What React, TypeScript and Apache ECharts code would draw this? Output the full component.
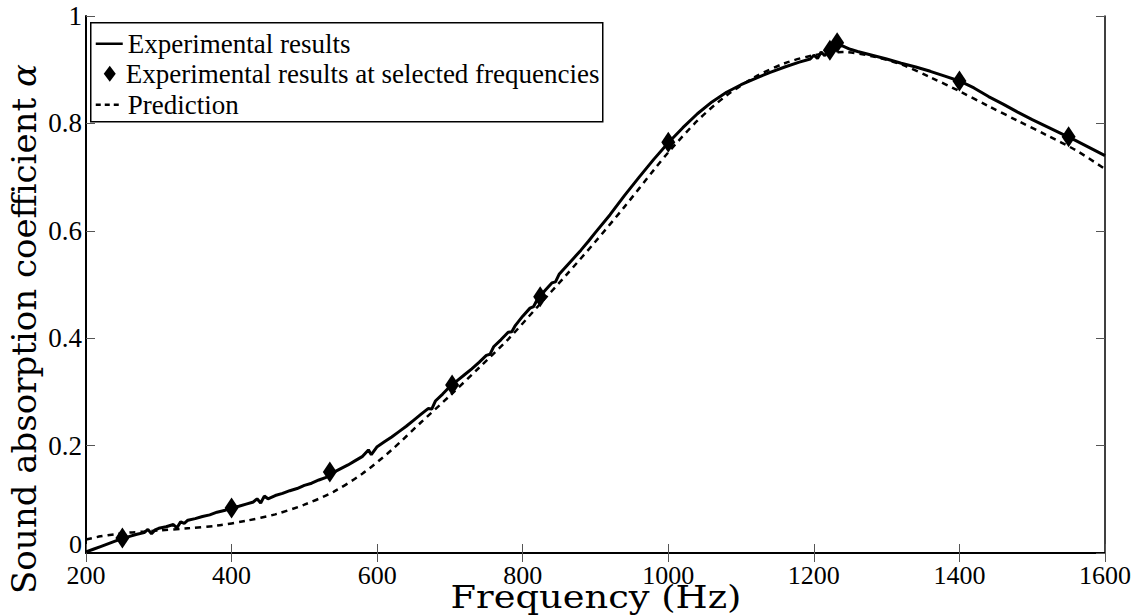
import React, { useEffect, useRef } from "react";
import * as echarts from "echarts";

const xTicks = [200, 400, 600, 800, 1000, 1200, 1400, 1600];
const yTicks = [0, 0.2, 0.4, 0.6, 0.8, 1];

const legendLabels = [
  "Experimental results",
  "Experimental results at selected frequencies",
  "Prediction",
];

const xTitle = "Frequency (Hz)";
const yTitle = "Sound absorption coefficient ";

// Experimental results (continuous measurement), [frequency Hz, alpha]
const experimental: number[][] = [
  [200, 0.002], [210, 0.007], [220, 0.012], [230, 0.017], [240, 0.022], [250, 0.027],
  [260, 0.031], [270, 0.035], [280, 0.038], [285, 0.044], [290, 0.036], [295, 0.043],
  [300, 0.046], [310, 0.049], [320, 0.053], [325, 0.047], [330, 0.058], [335, 0.055],
  [340, 0.061], [350, 0.064], [360, 0.068], [370, 0.071], [380, 0.076], [390, 0.079],
  [400, 0.084], [410, 0.087], [420, 0.091], [430, 0.095], [435, 0.101], [440, 0.093],
  [445, 0.106], [450, 0.101], [460, 0.107], [470, 0.111], [480, 0.116], [490, 0.120],
  [500, 0.126], [510, 0.130], [520, 0.136], [530, 0.141], [540, 0.150], [550, 0.157],
  [560, 0.164], [570, 0.172], [580, 0.180], [588, 0.192], [592, 0.183], [600, 0.198],
  [610, 0.207], [620, 0.216], [630, 0.226], [640, 0.236], [650, 0.247], [660, 0.258],
  [670, 0.269], [675, 0.268], [680, 0.283], [690, 0.296], [700, 0.310], [710, 0.321],
  [720, 0.332], [730, 0.343], [740, 0.355], [750, 0.368], [755, 0.370], [760, 0.384],
  [770, 0.397], [780, 0.411], [785, 0.412], [790, 0.424], [800, 0.441], [810, 0.456],
  [815, 0.459], [820, 0.472], [830, 0.488], [840, 0.503], [845, 0.505], [850, 0.519],
  [860, 0.534], [870, 0.549], [880, 0.564], [890, 0.580], [900, 0.597], [920, 0.630],
  [940, 0.666], [960, 0.700], [980, 0.733], [1000, 0.764], [1020, 0.792], [1040, 0.818],
  [1060, 0.840], [1080, 0.858], [1100, 0.872], [1120, 0.884], [1140, 0.895], [1160, 0.905],
  [1180, 0.914], [1195, 0.920], [1200, 0.927], [1205, 0.921], [1210, 0.933], [1215, 0.926],
  [1220, 0.936], [1225, 0.930], [1230, 0.945], [1240, 0.944], [1250, 0.938], [1260, 0.934],
  [1280, 0.927], [1300, 0.920], [1320, 0.912], [1340, 0.905], [1360, 0.897], [1380, 0.888],
  [1400, 0.879], [1420, 0.866], [1440, 0.850], [1460, 0.836], [1480, 0.821], [1500, 0.807],
  [1520, 0.794], [1540, 0.781], [1560, 0.768], [1580, 0.754], [1600, 0.740],
];

// Experimental results at selected frequencies
const selected: number[][] = [
  [250, 0.028], [400, 0.084], [535, 0.151], [703, 0.313], [824, 0.477],
  [1000, 0.765], [1222, 0.936], [1232, 0.950], [1400, 0.879], [1550, 0.775],
];

// Prediction
const prediction: number[][] = [
  [200, 0.025], [220, 0.031], [240, 0.035], [260, 0.038], [280, 0.040], [300, 0.042],
  [340, 0.046], [380, 0.051], [420, 0.060], [460, 0.072], [500, 0.090], [540, 0.114],
  [580, 0.148], [620, 0.192], [660, 0.243], [700, 0.293], [740, 0.345], [780, 0.398],
  [820, 0.458], [860, 0.518], [900, 0.580], [940, 0.645], [980, 0.713], [1000, 0.746],
  [1040, 0.805], [1080, 0.852], [1120, 0.887], [1160, 0.912], [1200, 0.927], [1240, 0.933],
  [1280, 0.925], [1320, 0.910], [1360, 0.886], [1400, 0.860], [1440, 0.832], [1480, 0.805],
  [1520, 0.778], [1560, 0.750], [1600, 0.715],
];

const SERIF = "Liberation Serif";
const TITLE = "DejaVu Serif";

export default function App() {
  const ref = useRef<HTMLDivElement>(null);
  useEffect(() => {
    if (!ref.current) return;
    const chart = echarts.init(ref.current, null, { renderer: "svg" });
    const tickStyle = { show: true, inside: true, length: 9, lineStyle: { color: "#555", width: 1 } };
    const axisLine = (w: number) => ({ show: true, lineStyle: { color: "#000", width: w } });
    const lx = 90, ly = 22;
    chart.setOption({
      animation: false,
      backgroundColor: "#fff",
      grid: { left: 86, right: 31, top: 16, bottom: 63, containLabel: false },
      xAxis: [
        {
          type: "value", min: xTicks[0], max: xTicks[xTicks.length - 1], interval: 200,
          axisLine: axisLine(2), axisTick: tickStyle, splitLine: { show: false },
          axisLabel: { color: "#000", fontFamily: SERIF, fontSize: 26, lineHeight: 22, margin: 11, formatter: (v: number) => String(v) },
        },
        {
          type: "value", position: "top", min: 200, max: 1600, interval: 200,
          axisLine: axisLine(1.5), axisTick: tickStyle, splitLine: { show: false },
          axisLabel: { show: false },
        },
      ],
      yAxis: [
        {
          type: "value", min: yTicks[0], max: yTicks[yTicks.length - 1], interval: 0.2,
          axisLine: axisLine(2), axisTick: tickStyle, splitLine: { show: false },
          axisLabel: { color: "#000", fontFamily: SERIF, fontSize: 27, margin: 4, showMinLabel: false, formatter: (v: number) => String(v) },
        },
        {
          type: "value", position: "right", min: 0, max: 1, interval: 0.2,
          axisLine: axisLine(1.5), axisTick: tickStyle, splitLine: { show: false },
          axisLabel: { show: false },
        },
      ],
      series: [
        {
          name: legendLabels[2], type: "line", data: prediction, smooth: 0.3, showSymbol: false,
          lineStyle: { color: "#000", width: 2.5, type: [6, 5] }, silent: true,
        },
        {
          name: legendLabels[0], type: "line", data: experimental, showSymbol: false,
          lineStyle: { color: "#000", width: 3 }, silent: true,
        },
        {
          name: legendLabels[1], type: "scatter", data: selected, symbol: "diamond",
          symbolSize: [14, 21], itemStyle: { color: "#000", opacity: 1 }, silent: true,
        },
      ],
      graphic: [
        {
          type: "text", x: 82, y: 544, z: 100,
          style: { text: String(yTicks[0]), fontFamily: SERIF, fontSize: 26, fill: "#000", align: "right", verticalAlign: "middle" },
        },
        {
          type: "text", x: 596, y: 597, scaleX: 1.15, z: 100,
          style: { text: xTitle, fontFamily: TITLE, fontSize: 32, fill: "#000", align: "center", verticalAlign: "middle" },
        },
        {
          type: "text", x: 24, y: 329, rotation: Math.PI / 2, z: 100,
          style: {
            text: yTitle + "{i|α}", fontFamily: TITLE, fontSize: 34, fill: "#000",
            align: "center", verticalAlign: "middle",
            rich: { i: { fontStyle: "italic", fontFamily: TITLE, fontSize: 34, fill: "#000" } },
          },
        },
        {
          type: "group", left: lx, top: ly, z: 100,
          children: [
            { type: "rect", shape: { x: 0, y: 0, width: 512, height: 99 }, style: { fill: "#fff", stroke: "#000", lineWidth: 1.5 } },
            { type: "line", shape: { x1: 5, y1: 21, x2: 32, y2: 21 }, style: { stroke: "#000", lineWidth: 2.5 } },
            { type: "text", x: 37, y: 21, style: { text: legendLabels[0], fontFamily: SERIF, fontSize: 27, fill: "#000", verticalAlign: "middle" } },
            { type: "polygon", shape: { points: [[19, 43], [25, 51], [19, 59], [13, 51]] }, style: { fill: "#000" } },
            { type: "text", x: 35, y: 51, style: { text: legendLabels[1], fontFamily: SERIF, fontSize: 27, fill: "#000", verticalAlign: "middle" } },
            { type: "line", shape: { x1: 5, y1: 82, x2: 32, y2: 82 }, style: { stroke: "#000", lineWidth: 2.5, lineDash: [5, 4] } },
            { type: "text", x: 37, y: 82, style: { text: legendLabels[2], fontFamily: SERIF, fontSize: 27, fill: "#000", verticalAlign: "middle" } },
          ],
        },
      ],
    });
    return () => chart.dispose();
  }, []);
  return <div ref={ref} style={{ position: "fixed", left: 0, top: 0, width: 1136, height: 616 }} />;
}
